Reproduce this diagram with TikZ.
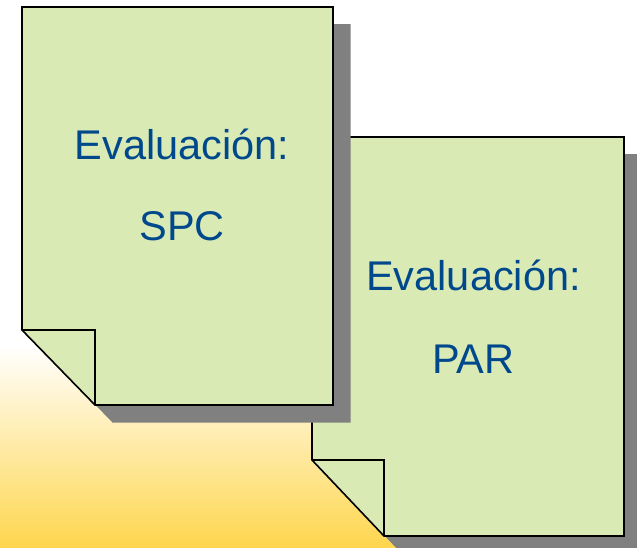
\documentclass[tikz,border=0pt]{standalone}
\usepackage{fontspec}
\setmainfont{Liberation Sans}
\definecolor{docfill}{RGB}{217,234,181}
\definecolor{doctext}{RGB}{0,72,140}
\definecolor{shadowgray}{RGB}{128,128,128}
\definecolor{bgyellow}{RGB}{254,214,78}
\begin{document}
\begin{tikzpicture}[x=1pt,y=-1pt,
  docshape/.style={fill=docfill,draw=black,line width=1.6pt,line join=miter},
  docshadow/.style={fill=shadowgray,draw=none},
  doclabel/.style={text=doctext,font=\fontsize{41.5}{48}\selectfont,anchor=base,inner sep=0pt}]
\useasboundingbox (0,0) rectangle (637,547);
% background
\fill[white] (0,0) rectangle (637,547);
\shade[top color=white,bottom color=bgyellow,shading angle=0] (0,345) rectangle (637,547);
% document 2 (behind)
\begin{scope}
\clip (0,0) rectangle (637,547);
\fill[docshadow] (329,154) -- (641,154) -- (641,553) -- (401,553) -- (329,477) -- cycle;
\end{scope}
\draw[docshape] (312,137) -- (624,137) -- (624,536) -- (384,536) -- (312,460) -- cycle;
\draw[docshape,fill=none] (312,460) -- (384,460) -- (384,536);
% document 1 (front)
\fill[docshadow] (39,24) -- (350.5,24) -- (350.5,422.5) -- (112.5,422.5) -- (39,347) -- cycle;
\draw[docshape] (22,7) -- (333,7) -- (333,405) -- (95,405) -- (22,330) -- cycle;
\draw[docshape,fill=none] (22,330) -- (95,330) -- (95,405);
% texts
\node[doclabel] (e1) at (182,159) {Evaluación:};
\node[doclabel] (s1) at (182,240) {SPC};
\node[doclabel] (e2) at (473.5,290) {Evaluación:};
\node[doclabel] (p2) at (473.5,373) {PAR};
\end{tikzpicture}
\end{document}
